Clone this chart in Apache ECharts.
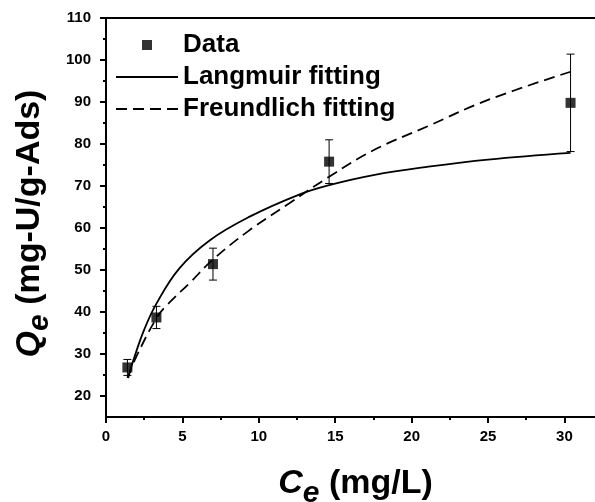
<!DOCTYPE html>
<html>
<head>
<meta charset="utf-8">
<script src="https://cdn.jsdelivr.net/npm/echarts@6/dist/echarts.min.js"></script>
<style>
  html, body { margin: 0; padding: 0; background: #fff; }
  #chart { width: 595px; height: 502px; }
</style>
</head>
<body>
<div id="chart"></div>
<script>
/* Adsorption isotherm */
const ceData = [1.4, 3.3, 7.0, 14.6, 30.4];
const qeData = [26.8, 38.7, 51.4, 75.8, 89.8];
const qeErr = [1.9, 2.65, 3.8, 5.2, 11.6];

const langC = [1.45, 1.8, 2.5, 3.3, 4.8, 6.8, 9.4, 12.6, 14.6, 17.5, 21.1, 25, 30.4];
const langQ = [24.3, 28.6, 35.8, 42.0, 50.4, 57.1, 62.7, 67.9, 70.2, 72.6, 74.6, 76.3, 77.9];

const freuC = [1.4, 2.0, 3.3, 4.0, 5.5, 7.0, 9.4, 12.0, 14.6, 17.5, 21.1, 25, 30.4];
const freuQ = [24.3, 29.5, 38.5, 41.7, 47.0, 52.5, 59.5, 65.9, 72.2, 78.5, 84.3, 90.5, 97.2];

const xMajor = [0, 5, 10, 15, 20, 25, 30];
const xMinor = [2.5, 7.5, 12.5, 17.5, 22.5, 27.5];
const yMajor = [20, 30, 40, 50, 60, 70, 80, 90, 100, 110];
const yMinor = [25, 35, 45, 55, 65, 75, 85, 95, 105];

const FONT = "Arial, 'Liberation Sans', sans-serif";
const zip = (a, b) => a.map((v, i) => [v, b[i]]);

const chart = echarts.init(document.getElementById("chart"));

const axisLine = { show: true, lineStyle: { color: "#000", width: 2 } };
const tickLab = { color: "#000", fontFamily: FONT, fontWeight: "bold", fontSize: 15 };

// C_e / Q_e style title: italic letter, lowered italic "e"
const titleRich = {
  c: { fontFamily: FONT, fontWeight: "bold", fontStyle: "italic", fontSize: 34, color: "#000", lineHeight: 38, verticalAlign: "top" },
  e: { fontFamily: FONT, fontWeight: "bold", fontStyle: "italic", fontSize: 30, color: "#000", lineHeight: 30, padding: [12, 0, 0, 0], verticalAlign: "top" },
  t: { fontFamily: FONT, fontWeight: "bold", fontSize: 34, color: "#000", lineHeight: 38, verticalAlign: "top" }
};

chart.setOption({
  animation: false,
  backgroundColor: "#fff",
  grid: { left: 106, right: 0, top: 18, bottom: 85, outerBoundsMode: "none", containLabel: false },
  legend: {
    orient: "vertical",
    left: 110,
    top: 27,
    itemWidth: 62,
    itemHeight: 10,
    itemGap: 6,
    textStyle: { color: "#000", fontFamily: FONT, fontWeight: "bold", fontSize: 26 },
    data: [
      { name: "Data", icon: "path://M0,0H10V10H0Z" },
      { name: "Langmuir fitting", itemStyle: { opacity: 0 } },
      { name: "Freundlich fitting", itemStyle: { opacity: 0 } }
    ]
  },
  xAxis: [
    {
      type: "value", min: 0, max: 32, position: "bottom",
      axisLine: axisLine,
      axisTick: { show: true, inside: false, length: 6, customValues: xMajor, lineStyle: { width: 2, color: "#000" } },
      axisLabel: Object.assign({ customValues: xMajor, margin: 12 }, tickLab),
      splitLine: { show: false },
      name: "{c|C}{e|e}{t| (mg/L)}",
      nameLocation: "middle",
      nameGap: 50,
      nameTextStyle: { rich: titleRich, padding: [0, 0, 0, 10] }
    },
    {
      type: "value", min: 0, max: 32, position: "bottom",
      axisLine: { show: false },
      axisTick: { show: true, length: 3, customValues: xMinor, lineStyle: { width: 2, color: "#000" } },
      axisLabel: { show: false },
      splitLine: { show: false }
    },
    {
      type: "value", min: 0, max: 32, position: "top",
      axisLine: axisLine,
      axisTick: { show: false },
      axisLabel: { show: false },
      splitLine: { show: false }
    }
  ],
  yAxis: [
    {
      type: "value", min: 15, max: 110, position: "left",
      axisLine: axisLine,
      axisTick: { show: true, length: 6, customValues: yMajor, lineStyle: { width: 2, color: "#000" } },
      axisLabel: Object.assign({ customValues: yMajor, margin: 15 }, tickLab),
      splitLine: { show: false },
      name: "{c|Q}{e|e}{t| (mg-U/g-Ads)}",
      nameLocation: "middle",
      nameGap: 46,
      nameTextStyle: { rich: titleRich, padding: [0, 12, 0, 0] }
    },
    {
      type: "value", min: 15, max: 110, position: "left",
      axisLine: { show: false },
      axisTick: { show: true, length: 3, customValues: yMinor, lineStyle: { width: 2, color: "#000" } },
      axisLabel: { show: false },
      splitLine: { show: false }
    }
  ],
  series: [
    {
      name: "Data",
      type: "scatter",
      symbol: "rect",
      symbolSize: 10,
      itemStyle: { color: "#000" },
      data: zip(ceData, qeData),
      z: 5
    },
    {
      name: "errbar",
      type: "custom",
      data: ceData.map((c, i) => [c, qeData[i] - qeErr[i], qeData[i] + qeErr[i]]),
      renderItem: function (params, api) {
        const lo = api.coord([api.value(0), api.value(1)]);
        const hi = api.coord([api.value(0), api.value(2)]);
        const w = 4;
        const style = { stroke: "#000", lineWidth: 1 };
        return {
          type: "group",
          children: [
            { type: "line", shape: { x1: lo[0], y1: lo[1], x2: hi[0], y2: hi[1] }, style: style },
            { type: "line", shape: { x1: lo[0] - w, y1: lo[1], x2: lo[0] + w, y2: lo[1] }, style: style },
            { type: "line", shape: { x1: hi[0] - w, y1: hi[1], x2: hi[0] + w, y2: hi[1] }, style: style }
          ]
        };
      },
      z: 4
    },
    {
      name: "Langmuir fitting",
      type: "line",
      smooth: 0.4,
      symbol: "none",
      lineStyle: { color: "#000", width: 1.8 },
      itemStyle: { color: "#000" },
      data: zip(langC, langQ)
    },
    {
      name: "Freundlich fitting",
      type: "line",
      smooth: 0.4,
      symbol: "none",
      lineStyle: { color: "#000", width: 1.8, type: [11, 6] },
      itemStyle: { color: "#000" },
      data: zip(freuC, freuQ)
    }
  ]
});
</script>
</body>
</html>
